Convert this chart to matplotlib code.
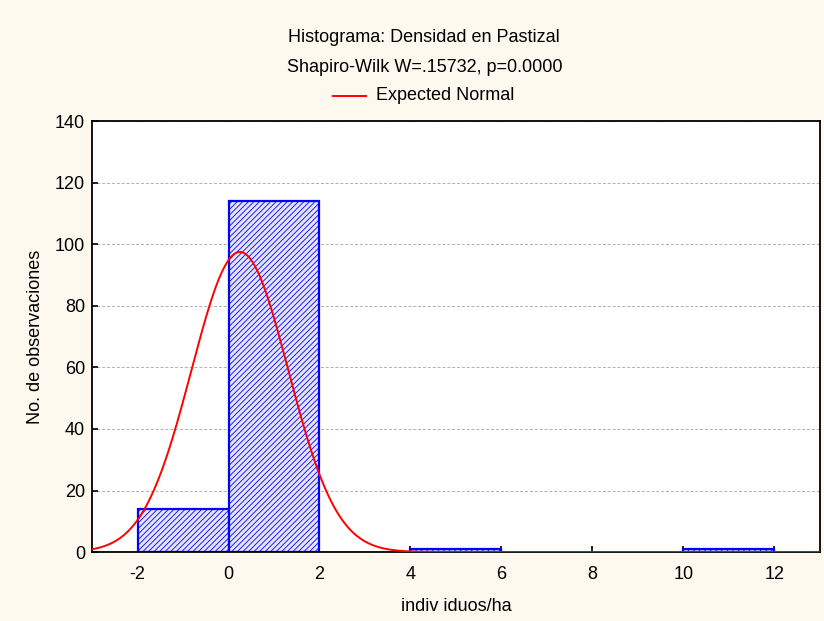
import numpy as np
import matplotlib
matplotlib.use("Agg")
from matplotlib import pyplot as plt
from matplotlib.lines import Line2D

plt.rcParams['font.family'] = ['Liberation Sans', 'DejaVu Sans']
plt.rcParams['axes.unicode_minus'] = False
plt.rcParams['hatch.color'] = '#2a2aff'
plt.rcParams['hatch.linewidth'] = 0.6

# Histogram data
bin_left  = [-2, 0, 4, 10]
counts    = [14, 114, 1, 1]
bin_width = 2

# Expected normal parameters
mean_val = 0.25
sd_val   = 1.064
n_obs    = sum(counts)

y_ticks = [0, 20, 40, 60, 80, 100, 120, 140]
x_ticks = [-2, 0, 2, 4, 6, 8, 10, 12]

fs = 13

fig = plt.figure(figsize=(8.24, 6.21), dpi=100)
fig.patch.set_facecolor('#fdf9ef')
ax = fig.add_axes([0.1117, 0.111, 0.8833, 0.694])
ax.set_facecolor('white')

ax.bar(bin_left, counts, width=bin_width, align='edge', facecolor='#e4e4ff',
       edgecolor='#0000ff', linewidth=1.6, hatch='//////', zorder=2)

x = np.linspace(-3, 13, 600)
expected = n_obs*bin_width/(sd_val*np.sqrt(2*np.pi))*np.exp(-0.5*((x-mean_val)/sd_val)**2)
ax.plot(x, expected, color='#ff0000', linewidth=1.4, zorder=3)

ax.set_xlim(-3, 13)
ax.set_ylim(0, 140)
ax.set_xticks(x_ticks)
ax.set_yticks(y_ticks)
ax.yaxis.grid(True, linestyle=(0, (3, 2)), color='#b0b0b0', linewidth=0.7, zorder=0)
ax.set_axisbelow(True)
ax.tick_params(direction='in', length=4, width=1.2, labelsize=fs, colors='black')
ax.tick_params(axis='x', pad=10)
ax.tick_params(axis='y', pad=5)
for s in ax.spines.values():
    s.set_linewidth(1.3)
    s.set_color('black')

ax.set_xlabel("indiv iduos/ha", fontsize=fs, labelpad=11)
ax.set_ylabel("No. de observaciones", fontsize=fs, labelpad=8)

fig.text(0.515, 1-37/621, "Histograma: Densidad en Pastizal", ha='center', va='center', fontsize=fs)
fig.text(0.515, 1-68/621, "Shapiro-Wilk W=.15732, p=0.0000", ha='center', va='center', fontsize=fs)
fig.add_artist(Line2D([333/824, 366/824], [1-96/621, 1-96/621], color='#ff0000', linewidth=1.4))
fig.text(376/824, 1-96/621, "Expected Normal", ha='left', va='center', fontsize=fs)

fig.savefig('out.png', dpi=100, facecolor=fig.get_facecolor())
plt.close(fig)
